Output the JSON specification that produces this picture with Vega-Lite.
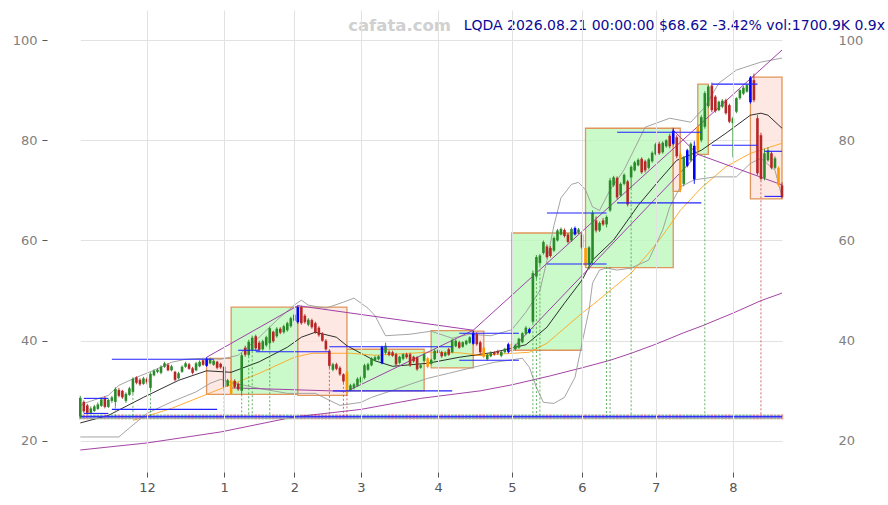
{
  "$schema": "https://vega.github.io/schema/vega-lite/v6.json",
  "width": 780,
  "height": 462,
  "autosize": "none",
  "padding": {"left": 47, "top": 10, "right": 61, "bottom": 33},
  "background": "white",
  "config": {
    "view": {"stroke": null},
    "axis": {"labelFont": "DejaVu Sans", "labelFontSize": 13, "domain": false, "gridColor": "#e2e2e2", "gridWidth": 1, "title": null}
  },
  "datasets": {
    "cs": [
      {"d":"2025-11-03","o":24.9,"h":29.0,"l":24.5,"c":28.6},
      {"d":"2025-11-04","o":27.8,"h":28.1,"l":25.6,"c":25.9},
      {"d":"2025-11-05","o":27.1,"h":27.4,"l":25.3,"c":25.6},
      {"d":"2025-11-06","o":25.6,"h":26.9,"l":25.4,"c":26.5},
      {"d":"2025-11-07","o":26.0,"h":27.2,"l":25.8,"c":26.9},
      {"d":"2025-11-10","o":26.4,"h":27.7,"l":26.2,"c":27.3},
      {"d":"2025-11-11","o":27.0,"h":28.6,"l":26.8,"c":28.3},
      {"d":"2025-11-12","o":28.6,"h":28.9,"l":26.5,"c":26.8},
      {"d":"2025-11-13","o":26.8,"h":28.4,"l":26.6,"c":28.2},
      {"d":"2025-11-14","o":28.0,"h":29.0,"l":27.6,"c":28.7},
      {"d":"2025-11-17","o":27.8,"h":30.7,"l":26.9,"c":30.4},
      {"d":"2025-11-18","o":30.2,"h":30.6,"l":28.7,"c":29.0},
      {"d":"2025-11-19","o":30.0,"h":30.2,"l":28.4,"c":28.7},
      {"d":"2025-11-20","o":28.0,"h":29.7,"l":27.6,"c":29.4},
      {"d":"2025-11-21","o":29.2,"h":30.8,"l":29.0,"c":30.5},
      {"d":"2025-11-24","o":29.8,"h":32.7,"l":29.4,"c":32.4},
      {"d":"2025-11-25","o":32.7,"h":32.9,"l":31.3,"c":31.6},
      {"d":"2025-11-26","o":32.2,"h":32.5,"l":31.0,"c":31.3},
      {"d":"2025-11-28","o":31.4,"h":32.8,"l":31.2,"c":32.5},
      {"d":"2025-12-01","o":32.4,"h":32.7,"l":31.3,"c":31.7},
      {"d":"2025-12-02","o":30.6,"h":33.7,"l":30.1,"c":33.4},
      {"d":"2025-12-03","o":33.1,"h":34.3,"l":32.9,"c":34.0},
      {"d":"2025-12-04","o":33.8,"h":34.5,"l":33.5,"c":34.2},
      {"d":"2025-12-05","o":33.6,"h":35.1,"l":33.3,"c":34.8},
      {"d":"2025-12-08","o":34.8,"h":35.8,"l":34.6,"c":35.5},
      {"d":"2025-12-09","o":35.2,"h":35.5,"l":33.9,"c":34.1},
      {"d":"2025-12-10","o":34.1,"h":35.2,"l":33.9,"c":34.9},
      {"d":"2025-12-11","o":33.8,"h":34.0,"l":31.9,"c":32.2},
      {"d":"2025-12-12","o":32.5,"h":33.8,"l":32.3,"c":33.5},
      {"d":"2025-12-15","o":33.8,"h":35.1,"l":33.6,"c":34.8},
      {"d":"2025-12-16","o":34.8,"h":35.8,"l":34.6,"c":35.5},
      {"d":"2025-12-17","o":35.3,"h":35.6,"l":34.2,"c":34.4},
      {"d":"2025-12-18","o":34.5,"h":34.8,"l":33.3,"c":33.6},
      {"d":"2025-12-19","o":34.1,"h":35.8,"l":33.9,"c":35.5},
      {"d":"2025-12-22","o":34.9,"h":36.1,"l":34.7,"c":35.8},
      {"d":"2025-12-23","o":36.1,"h":36.4,"l":35.0,"c":35.2},
      {"d":"2025-12-24","o":35.0,"h":36.7,"l":34.8,"c":36.4,"sig":"A"},
      {"d":"2025-12-26","o":35.5,"h":36.6,"l":35.3,"c":36.3},
      {"d":"2025-12-29","o":35.2,"h":36.3,"l":35.0,"c":36.0},
      {"d":"2025-12-30","o":35.8,"h":36.0,"l":34.3,"c":34.6},
      {"d":"2025-12-31","o":35.4,"h":35.6,"l":34.4,"c":34.7},
      {"d":"2026-01-02","o":34.8,"h":35.0,"l":30.3,"c":30.8},
      {"d":"2026-01-05","o":31.0,"h":32.4,"l":30.8,"c":32.1},
      {"d":"2026-01-06","o":32.1,"h":32.4,"l":29.2,"c":29.5,"sig":"B"},
      {"d":"2026-01-07","o":32.0,"h":32.3,"l":30.5,"c":30.8},
      {"d":"2026-01-08","o":31.4,"h":31.7,"l":30.0,"c":30.3},
      {"d":"2026-01-09","o":30.0,"h":37.6,"l":29.3,"c":37.1},
      {"d":"2026-01-12","o":38.6,"h":39.0,"l":36.8,"c":37.2},
      {"d":"2026-01-13","o":37.2,"h":40.2,"l":36.9,"c":39.8},
      {"d":"2026-01-14","o":38.2,"h":41.0,"l":37.9,"c":40.6},
      {"d":"2026-01-15","o":40.9,"h":41.2,"l":38.1,"c":38.5},
      {"d":"2026-01-16","o":39.6,"h":40.0,"l":37.8,"c":38.2},
      {"d":"2026-01-20","o":38.3,"h":40.2,"l":38.0,"c":39.9},
      {"d":"2026-01-21","o":39.1,"h":41.0,"l":38.8,"c":40.7},
      {"d":"2026-01-22","o":39.5,"h":42.8,"l":38.5,"c":42.5},
      {"d":"2026-01-23","o":41.8,"h":42.0,"l":39.6,"c":39.9},
      {"d":"2026-01-26","o":40.9,"h":42.7,"l":40.6,"c":42.4},
      {"d":"2026-01-27","o":42.4,"h":42.7,"l":41.3,"c":41.6},
      {"d":"2026-01-28","o":41.7,"h":43.2,"l":41.4,"c":42.9},
      {"d":"2026-01-29","o":42.1,"h":43.8,"l":41.8,"c":43.5},
      {"d":"2026-01-30","o":42.9,"h":44.8,"l":42.6,"c":44.5},
      {"d":"2026-02-02","o":44.0,"h":45.5,"l":43.7,"c":45.2},
      {"d":"2026-02-03","o":43.7,"h":47.0,"l":43.4,"c":46.7,"sig":"A"},
      {"d":"2026-02-04","o":46.7,"h":47.0,"l":43.2,"c":43.5},
      {"d":"2026-02-05","o":45.0,"h":45.3,"l":43.4,"c":43.7},
      {"d":"2026-02-06","o":43.2,"h":44.5,"l":42.9,"c":44.2},
      {"d":"2026-02-09","o":44.1,"h":44.4,"l":42.4,"c":42.7},
      {"d":"2026-02-10","o":43.5,"h":43.8,"l":41.4,"c":41.7},
      {"d":"2026-02-11","o":42.6,"h":42.9,"l":40.8,"c":41.1},
      {"d":"2026-02-12","o":41.4,"h":41.7,"l":39.8,"c":40.0},
      {"d":"2026-02-13","o":40.0,"h":40.3,"l":38.0,"c":38.3},
      {"d":"2026-02-17","o":38.0,"h":38.3,"l":34.6,"c":35.0},
      {"d":"2026-02-18","o":34.2,"h":35.6,"l":33.9,"c":35.3},
      {"d":"2026-02-19","o":35.3,"h":35.6,"l":34.1,"c":34.4},
      {"d":"2026-02-20","o":34.6,"h":34.9,"l":33.0,"c":33.3},
      {"d":"2026-02-23","o":33.3,"h":33.5,"l":31.6,"c":31.9},
      {"d":"2026-02-24","o":33.7,"h":34.0,"l":29.3,"c":29.7,"sig":"B"},
      {"d":"2026-02-25","o":30.1,"h":31.4,"l":29.9,"c":31.1},
      {"d":"2026-02-26","o":30.6,"h":31.6,"l":30.3,"c":31.3},
      {"d":"2026-02-27","o":31.0,"h":32.7,"l":30.8,"c":32.4},
      {"d":"2026-03-02","o":31.7,"h":33.0,"l":31.4,"c":32.7},
      {"d":"2026-03-03","o":32.6,"h":35.4,"l":32.3,"c":35.1},
      {"d":"2026-03-04","o":34.2,"h":35.6,"l":34.0,"c":35.3},
      {"d":"2026-03-05","o":35.1,"h":36.7,"l":34.9,"c":36.5},
      {"d":"2026-03-06","o":36.1,"h":37.0,"l":35.9,"c":36.7},
      {"d":"2026-03-09","o":36.3,"h":37.1,"l":36.1,"c":36.9},
      {"d":"2026-03-10","o":35.5,"h":39.0,"l":35.3,"c":38.8,"sig":"A"},
      {"d":"2026-03-11","o":37.6,"h":39.6,"l":37.3,"c":39.0},
      {"d":"2026-03-12","o":37.8,"h":38.1,"l":36.9,"c":37.2},
      {"d":"2026-03-13","o":37.7,"h":38.0,"l":36.8,"c":37.0},
      {"d":"2026-03-16","o":37.3,"h":37.6,"l":35.0,"c":35.3},
      {"d":"2026-03-17","o":35.6,"h":37.0,"l":35.3,"c":36.8},
      {"d":"2026-03-18","o":36.4,"h":37.5,"l":36.1,"c":37.3},
      {"d":"2026-03-19","o":37.3,"h":37.6,"l":36.4,"c":36.7},
      {"d":"2026-03-20","o":37.3,"h":37.6,"l":34.8,"c":35.1},
      {"d":"2026-03-23","o":36.8,"h":37.0,"l":35.6,"c":35.9},
      {"d":"2026-03-24","o":36.7,"h":36.9,"l":34.0,"c":34.3},
      {"d":"2026-03-25","o":34.6,"h":35.4,"l":34.4,"c":35.1},
      {"d":"2026-03-26","o":36.0,"h":37.5,"l":35.8,"c":37.3},
      {"d":"2026-03-27","o":36.5,"h":36.8,"l":34.5,"c":34.8,"sig":"B"},
      {"d":"2026-03-30","o":35.4,"h":36.4,"l":35.2,"c":36.2},
      {"d":"2026-03-31","o":36.3,"h":38.3,"l":36.1,"c":38.0},
      {"d":"2026-04-01","o":38.1,"h":38.4,"l":37.4,"c":37.6},
      {"d":"2026-04-02","o":37.7,"h":38.0,"l":36.6,"c":36.9},
      {"d":"2026-04-06","o":37.0,"h":37.9,"l":36.8,"c":37.6},
      {"d":"2026-04-07","o":38.3,"h":38.6,"l":37.0,"c":37.2},
      {"d":"2026-04-08","o":37.7,"h":40.4,"l":37.5,"c":40.1},
      {"d":"2026-04-09","o":38.9,"h":40.3,"l":38.7,"c":40.0},
      {"d":"2026-04-10","o":39.7,"h":40.0,"l":38.4,"c":38.6},
      {"d":"2026-04-13","o":38.8,"h":39.9,"l":38.6,"c":39.7},
      {"d":"2026-04-14","o":39.3,"h":40.2,"l":39.1,"c":40.0},
      {"d":"2026-04-15","o":39.6,"h":40.9,"l":39.4,"c":40.7},
      {"d":"2026-04-16","o":39.4,"h":42.0,"l":39.2,"c":41.6,"sig":"A"},
      {"d":"2026-04-17","o":41.3,"h":41.7,"l":39.0,"c":39.3},
      {"d":"2026-04-20","o":39.7,"h":40.0,"l":37.4,"c":37.7},
      {"d":"2026-04-21","o":38.6,"h":38.9,"l":36.5,"c":36.8,"sig":"B"},
      {"d":"2026-04-22","o":36.3,"h":37.5,"l":36.0,"c":37.2},
      {"d":"2026-04-23","o":36.9,"h":37.9,"l":36.7,"c":37.6},
      {"d":"2026-04-24","o":37.7,"h":37.9,"l":37.0,"c":37.3},
      {"d":"2026-04-27","o":37.9,"h":38.2,"l":37.2,"c":37.5},
      {"d":"2026-04-28","o":37.0,"h":38.0,"l":36.7,"c":37.8},
      {"d":"2026-04-29","o":37.7,"h":38.6,"l":37.5,"c":38.4},
      {"d":"2026-04-30","o":37.8,"h":39.6,"l":37.5,"c":39.3,"sig":"A"},
      {"d":"2026-05-01","o":39.4,"h":39.7,"l":37.6,"c":37.9,"sig":"B"},
      {"d":"2026-05-04","o":38.3,"h":39.4,"l":38.1,"c":39.1},
      {"d":"2026-05-05","o":38.6,"h":40.6,"l":38.4,"c":40.4},
      {"d":"2026-05-06","o":39.7,"h":41.7,"l":39.5,"c":41.5},
      {"d":"2026-05-07","o":41.4,"h":42.9,"l":41.2,"c":42.6},
      {"d":"2026-05-08","o":41.6,"h":42.6,"l":41.4,"c":42.3,"sig":"A"},
      {"d":"2026-05-11","o":43.8,"h":54.0,"l":43.5,"c":53.5},
      {"d":"2026-05-12","o":52.8,"h":57.1,"l":52.3,"c":56.7},
      {"d":"2026-05-13","o":55.5,"h":57.3,"l":55.0,"c":57.0},
      {"d":"2026-05-14","o":57.5,"h":60.0,"l":57.2,"c":59.7},
      {"d":"2026-05-15","o":58.8,"h":59.2,"l":56.4,"c":56.7},
      {"d":"2026-05-18","o":58.5,"h":58.9,"l":56.6,"c":56.9},
      {"d":"2026-05-19","o":58.0,"h":60.8,"l":57.7,"c":60.5},
      {"d":"2026-05-20","o":60.0,"h":62.3,"l":59.8,"c":62.0},
      {"d":"2026-05-21","o":61.2,"h":62.6,"l":61.0,"c":62.3},
      {"d":"2026-05-22","o":62.1,"h":62.4,"l":60.6,"c":60.9},
      {"d":"2026-05-26","o":61.2,"h":61.5,"l":59.4,"c":59.7},
      {"d":"2026-05-27","o":60.0,"h":62.6,"l":59.7,"c":62.3},
      {"d":"2026-05-28","o":61.2,"h":62.8,"l":61.0,"c":62.5,"sig":"A"},
      {"d":"2026-05-29","o":61.6,"h":62.5,"l":61.3,"c":62.2},
      {"d":"2026-06-01","o":61.2,"h":61.5,"l":58.3,"c":58.6},
      {"d":"2026-06-02","o":58.5,"h":58.8,"l":54.6,"c":55.0,"sig":"B"},
      {"d":"2026-06-03","o":55.2,"h":58.9,"l":54.2,"c":58.6},
      {"d":"2026-06-04","o":56.0,"h":66.0,"l":55.3,"c":65.5},
      {"d":"2026-06-05","o":64.0,"h":64.8,"l":61.6,"c":62.0},
      {"d":"2026-06-08","o":62.0,"h":63.8,"l":61.7,"c":63.5},
      {"d":"2026-06-09","o":64.0,"h":64.5,"l":62.9,"c":63.2},
      {"d":"2026-06-10","o":63.2,"h":65.0,"l":62.6,"c":64.7},
      {"d":"2026-06-11","o":66.0,"h":72.5,"l":65.7,"c":72.0},
      {"d":"2026-06-12","o":71.0,"h":72.9,"l":70.7,"c":72.6},
      {"d":"2026-06-15","o":72.5,"h":72.8,"l":68.2,"c":68.6},
      {"d":"2026-06-16","o":69.0,"h":71.6,"l":68.7,"c":71.3},
      {"d":"2026-06-17","o":71.3,"h":73.4,"l":71.0,"c":73.1},
      {"d":"2026-06-18","o":71.8,"h":72.1,"l":66.8,"c":67.2},
      {"d":"2026-06-22","o":72.6,"h":75.0,"l":70.4,"c":74.7},
      {"d":"2026-06-23","o":74.0,"h":75.9,"l":73.8,"c":75.6},
      {"d":"2026-06-24","o":75.0,"h":76.4,"l":74.8,"c":76.1},
      {"d":"2026-06-25","o":76.3,"h":76.6,"l":73.3,"c":73.6},
      {"d":"2026-06-26","o":75.8,"h":76.1,"l":73.6,"c":74.0},
      {"d":"2026-06-29","o":74.5,"h":76.5,"l":74.2,"c":76.2},
      {"d":"2026-06-30","o":75.8,"h":77.8,"l":75.5,"c":77.5},
      {"d":"2026-07-01","o":77.2,"h":79.5,"l":77.0,"c":79.2},
      {"d":"2026-07-02","o":79.3,"h":79.7,"l":77.1,"c":77.4},
      {"d":"2026-07-06","o":77.6,"h":79.8,"l":77.3,"c":79.5},
      {"d":"2026-07-07","o":78.8,"h":80.2,"l":78.5,"c":80.0},
      {"d":"2026-07-08","o":80.9,"h":81.3,"l":78.4,"c":78.8},
      {"d":"2026-07-09","o":79.3,"h":82.4,"l":79.0,"c":81.9,"sig":"A"},
      {"d":"2026-07-10","o":80.6,"h":81.0,"l":76.4,"c":76.8},
      {"d":"2026-07-13","o":77.2,"h":77.7,"l":69.6,"c":70.1,"sig":"B"},
      {"d":"2026-07-14","o":71.3,"h":76.9,"l":70.8,"c":76.6},
      {"d":"2026-07-15","o":74.9,"h":78.3,"l":74.6,"c":78.0,"sig":"A"},
      {"d":"2026-07-16","o":76.0,"h":79.6,"l":75.7,"c":79.3},
      {"d":"2026-07-17","o":72.2,"h":79.8,"l":71.3,"c":78.9,"sig":"A"},
      {"d":"2026-07-20","o":78.0,"h":83.2,"l":77.4,"c":82.7,"sig":"B"},
      {"d":"2026-07-21","o":80.0,"h":85.0,"l":79.6,"c":84.6},
      {"d":"2026-07-22","o":82.7,"h":89.8,"l":82.3,"c":89.4},
      {"d":"2026-07-23","o":86.8,"h":91.0,"l":86.4,"c":90.7},
      {"d":"2026-07-24","o":90.9,"h":91.5,"l":85.6,"c":86.0},
      {"d":"2026-07-27","o":88.7,"h":89.0,"l":85.5,"c":85.8},
      {"d":"2026-07-28","o":86.0,"h":87.9,"l":85.8,"c":87.7},
      {"d":"2026-07-29","o":86.7,"h":88.2,"l":86.4,"c":87.9},
      {"d":"2026-07-30","o":88.0,"h":88.3,"l":85.1,"c":85.4},
      {"d":"2026-07-31","o":87.0,"h":87.3,"l":83.4,"c":83.7},
      {"d":"2026-08-03","o":83.4,"h":84.7,"l":76.6,"c":84.4},
      {"d":"2026-08-04","o":85.7,"h":88.6,"l":85.4,"c":88.4},
      {"d":"2026-08-05","o":88.4,"h":90.2,"l":88.1,"c":90.0},
      {"d":"2026-08-06","o":89.3,"h":90.8,"l":89.0,"c":90.5},
      {"d":"2026-08-07","o":89.7,"h":91.2,"l":89.5,"c":91.0},
      {"d":"2026-08-10","o":87.6,"h":92.8,"l":87.3,"c":92.5,"sig":"A"},
      {"d":"2026-08-11","o":92.0,"h":93.3,"l":87.6,"c":88.0},
      {"d":"2026-08-12","o":84.4,"h":85.0,"l":73.0,"c":73.4},
      {"d":"2026-08-13","o":81.0,"h":81.5,"l":72.0,"c":72.3},
      {"d":"2026-08-14","o":72.5,"h":78.3,"l":72.0,"c":77.4},
      {"d":"2026-08-17","o":76.0,"h":78.6,"l":75.7,"c":78.0},
      {"d":"2026-08-18","o":77.4,"h":77.8,"l":74.2,"c":74.5},
      {"d":"2026-08-19","o":74.5,"h":76.8,"l":74.2,"c":76.4},
      {"d":"2026-08-20","o":74.5,"h":74.8,"l":70.8,"c":71.05,"sig":"B"},
      {"d":"2026-08-21","o":71.0,"h":71.6,"l":68.4,"c":68.62}
    ],
    "bx": [
      {"d1":"2025-12-24","d2":"2026-01-06","lo":29.3,"hi":36.5,"s":"dn"},
      {"d1":"2026-01-06","d2":"2026-02-03","lo":29.3,"hi":46.7,"s":"up"},
      {"d1":"2026-02-03","d2":"2026-02-24","lo":29.1,"hi":46.7,"s":"dn"},
      {"d1":"2026-02-24","d2":"2026-03-26","lo":30.0,"hi":38.3,"s":"up"},
      {"d1":"2026-03-30","d2":"2026-04-16","lo":34.6,"hi":42.0,"s":"up"},
      {"d1":"2026-04-16","d2":"2026-04-21","lo":37.1,"hi":41.9,"s":"dn"},
      {"d1":"2026-05-01","d2":"2026-06-01","lo":38.1,"hi":61.5,"s":"up"},
      {"d1":"2026-06-02","d2":"2026-07-09","lo":54.6,"hi":82.4,"s":"up"},
      {"d1":"2026-07-09","d2":"2026-07-13","lo":69.8,"hi":82.4,"s":"dn"},
      {"d1":"2026-07-20","d2":"2026-07-23","lo":77.2,"hi":91.2,"s":"up"},
      {"d1":"2026-08-10","d2":"2026-08-21","lo":68.3,"hi":92.6,"s":"dn"}
    ],
    "hl": [
      {"d1":"2025-11-14","d2":"2025-12-29","v":36.3},
      {"d1":"2025-11-14","d2":"2025-12-30","v":26.3},
      {"d1":"2025-11-04","d2":"2025-11-13","v":28.5},
      {"d1":"2025-11-04","d2":"2025-11-13","v":25.5},
      {"d1":"2026-01-08","d2":"2026-01-16","v":38.1},
      {"d1":"2026-01-15","d2":"2026-02-17","v":37.8},
      {"d1":"2026-02-17","d2":"2026-04-08","v":38.8},
      {"d1":"2026-02-18","d2":"2026-04-08","v":30.0},
      {"d1":"2026-04-10","d2":"2026-05-05","v":41.5},
      {"d1":"2026-04-10","d2":"2026-05-05","v":36.1},
      {"d1":"2026-05-15","d2":"2026-06-10","v":65.5},
      {"d1":"2026-05-15","d2":"2026-06-10","v":55.3},
      {"d1":"2026-06-15","d2":"2026-07-21","v":81.6},
      {"d1":"2026-06-15","d2":"2026-07-21","v":67.5},
      {"d1":"2026-07-24","d2":"2026-08-12","v":91.2},
      {"d1":"2026-07-24","d2":"2026-08-12","v":79.0},
      {"d1":"2026-08-14","d2":"2026-08-21","v":77.8},
      {"d1":"2026-08-14","d2":"2026-08-21","v":68.8}
    ],
    "dv": [
      {"d":"2025-11-17","v":26.9,"s":"up"},
      {"d":"2025-11-24","v":29.4,"s":"up"},
      {"d":"2025-12-02","v":30.1,"s":"up"},
      {"d":"2026-01-02","v":30.3,"s":"dn"},
      {"d":"2026-01-09","v":29.3,"s":"up"},
      {"d":"2026-01-13","v":36.9,"s":"up"},
      {"d":"2026-01-14","v":37.9,"s":"up"},
      {"d":"2026-01-22","v":38.5,"s":"up"},
      {"d":"2026-02-17","v":34.6,"s":"dn"},
      {"d":"2026-02-23","v":31.6,"s":"dn"},
      {"d":"2026-02-24","v":29.3,"s":"dn"},
      {"d":"2026-05-11","v":43.5,"s":"up"},
      {"d":"2026-05-12","v":52.3,"s":"up"},
      {"d":"2026-05-13","v":55.0,"s":"up"},
      {"d":"2026-06-10","v":54.7,"s":"up"},
      {"d":"2026-06-11","v":54.7,"s":"up"},
      {"d":"2026-06-22","v":70.4,"s":"up"},
      {"d":"2026-07-22","v":77.0,"s":"up"},
      {"d":"2026-08-13","v":72.0,"s":"dn"}
    ],
    "tr": [
      {"d":"2025-12-24","v":36.7,"g":"a"},{"d":"2026-02-03","v":47.0,"g":"a"},
      {"d":"2026-02-03","v":47.0,"g":"b"},{"d":"2026-04-16","v":42.1,"g":"b"},
      {"d":"2026-01-06","v":30.6,"g":"c"},{"d":"2026-02-24","v":29.9,"g":"c"},
      {"d":"2026-02-24","v":29.9,"g":"d"},{"d":"2026-04-16","v":42.1,"g":"d"},
      {"d":"2026-04-16","v":42.1,"g":"e"},{"d":"2026-08-21","v":98.0,"g":"e"},
      {"d":"2026-04-30","v":37.6,"g":"f"},{"d":"2026-07-20","v":77.2,"g":"f"},
      {"d":"2026-07-09","v":82.0,"g":"g"},{"d":"2026-07-20","v":77.2,"g":"g"},
      {"d":"2026-07-20","v":77.2,"g":"h"},{"d":"2026-08-21","v":71.1,"g":"h"}
    ],
    "ln": [
      {"d":"2025-11-03","s":"m20","v":23.6},{"d":"2025-11-13","s":"m20","v":25.1},{"d":"2025-11-28","s":"m20","v":28.7},
      {"d":"2025-12-12","s":"m20","v":32.1},{"d":"2025-12-24","s":"m20","v":34.0},{"d":"2026-01-06","s":"m20","v":33.7},
      {"d":"2026-01-16","s":"m20","v":35.8},{"d":"2026-01-29","s":"m20","v":38.7},{"d":"2026-02-04","s":"m20","v":40.7},
      {"d":"2026-02-10","s":"m20","v":41.7},{"d":"2026-02-19","s":"m20","v":40.7},{"d":"2026-02-24","s":"m20","v":39.0},
      {"d":"2026-03-02","s":"m20","v":37.5},{"d":"2026-03-06","s":"m20","v":36.0},{"d":"2026-03-13","s":"m20","v":34.9},
      {"d":"2026-03-27","s":"m20","v":35.5},{"d":"2026-04-10","s":"m20","v":36.7},{"d":"2026-04-24","s":"m20","v":37.7},
      {"d":"2026-05-07","s":"m20","v":39.2},{"d":"2026-05-15","s":"m20","v":42.7},{"d":"2026-05-22","s":"m20","v":47.5},
      {"d":"2026-06-01","s":"m20","v":52.1},{"d":"2026-06-04","s":"m20","v":56.1},{"d":"2026-06-12","s":"m20","v":60.1},
      {"d":"2026-06-22","s":"m20","v":65.0},{"d":"2026-06-24","s":"m20","v":67.0},{"d":"2026-07-02","s":"m20","v":72.0},
      {"d":"2026-07-10","s":"m20","v":76.0},{"d":"2026-07-21","s":"m20","v":78.0},{"d":"2026-07-30","s":"m20","v":81.4},
      {"d":"2026-08-10","s":"m20","v":85.0},{"d":"2026-08-13","s":"m20","v":85.4},{"d":"2026-08-17","s":"m20","v":85.0},
      {"d":"2026-08-21","s":"m20","v":82.4},

      {"d":"2025-11-24","s":"m50","v":24.1},{"d":"2025-12-10","s":"m50","v":26.5},{"d":"2025-12-24","s":"m50","v":29.3},
      {"d":"2026-01-16","s":"m50","v":33.5},{"d":"2026-02-02","s":"m50","v":36.7},{"d":"2026-02-09","s":"m50","v":37.5},
      {"d":"2026-02-25","s":"m50","v":37.5},{"d":"2026-03-06","s":"m50","v":37.1},{"d":"2026-03-27","s":"m50","v":37.7},
      {"d":"2026-04-10","s":"m50","v":37.6},{"d":"2026-04-20","s":"m50","v":37.1},{"d":"2026-05-08","s":"m50","v":37.7},
      {"d":"2026-05-15","s":"m50","v":39.5},{"d":"2026-06-01","s":"m50","v":45.5},{"d":"2026-06-05","s":"m50","v":47.7},
      {"d":"2026-06-22","s":"m50","v":53.5},{"d":"2026-06-29","s":"m50","v":57.5},{"d":"2026-07-06","s":"m50","v":61.0},
      {"d":"2026-07-13","s":"m50","v":66.0},{"d":"2026-07-21","s":"m50","v":70.5},{"d":"2026-07-30","s":"m50","v":74.7},
      {"d":"2026-08-10","s":"m50","v":77.4},{"d":"2026-08-21","s":"m50","v":79.4},

      {"d":"2025-11-03","s":"m200","v":18.2},{"d":"2025-12-01","s":"m200","v":19.6},{"d":"2025-12-31","s":"m200","v":21.8},
      {"d":"2026-02-02","s":"m200","v":24.8},{"d":"2026-03-02","s":"m200","v":26.3},{"d":"2026-03-25","s":"m200","v":28.5},
      {"d":"2026-04-20","s":"m200","v":30.0},{"d":"2026-05-01","s":"m200","v":31.2},{"d":"2026-05-18","s":"m200","v":33.0},
      {"d":"2026-06-01","s":"m200","v":34.6},{"d":"2026-06-11","s":"m200","v":36.1},{"d":"2026-06-22","s":"m200","v":37.5},
      {"d":"2026-07-01","s":"m200","v":39.3},{"d":"2026-07-14","s":"m200","v":41.6},{"d":"2026-07-21","s":"m200","v":42.9},
      {"d":"2026-08-03","s":"m200","v":45.5},{"d":"2026-08-13","s":"m200","v":48.0},{"d":"2026-08-21","s":"m200","v":49.5},

      {"d":"2025-11-03","s":"bu","v":27.0},{"d":"2025-11-04","s":"bu","v":27.5},{"d":"2025-11-13","s":"bu","v":29.1},
      {"d":"2025-11-18","s":"bu","v":31.1},{"d":"2025-11-25","s":"bu","v":32.7},{"d":"2025-12-03","s":"bu","v":34.1},
      {"d":"2025-12-10","s":"bu","v":35.7},{"d":"2025-12-16","s":"bu","v":36.3},{"d":"2025-12-23","s":"bu","v":36.5},
      {"d":"2025-12-31","s":"bu","v":36.3},{"d":"2026-01-08","s":"bu","v":37.1},{"d":"2026-01-16","s":"bu","v":40.7},
      {"d":"2026-01-26","s":"bu","v":44.1},{"d":"2026-02-02","s":"bu","v":47.1},{"d":"2026-02-04","s":"bu","v":48.1},
      {"d":"2026-02-06","s":"bu","v":47.1},{"d":"2026-02-13","s":"bu","v":46.5},{"d":"2026-02-23","s":"bu","v":47.7},
      {"d":"2026-02-26","s":"bu","v":48.5},{"d":"2026-03-04","s":"bu","v":46.5},{"d":"2026-03-06","s":"bu","v":45.0},
      {"d":"2026-03-11","s":"bu","v":41.0},{"d":"2026-03-20","s":"bu","v":41.3},{"d":"2026-03-30","s":"bu","v":41.9},
      {"d":"2026-04-08","s":"bu","v":40.5},{"d":"2026-04-15","s":"bu","v":41.3},{"d":"2026-04-23","s":"bu","v":41.0},
      {"d":"2026-05-01","s":"bu","v":42.2},{"d":"2026-05-07","s":"bu","v":45.7},{"d":"2026-05-13","s":"bu","v":50.0},
      {"d":"2026-05-15","s":"bu","v":56.0},{"d":"2026-05-19","s":"bu","v":63.0},{"d":"2026-05-21","s":"bu","v":68.5},
      {"d":"2026-05-27","s":"bu","v":71.2},{"d":"2026-05-29","s":"bu","v":71.6},{"d":"2026-06-02","s":"bu","v":70.1},
      {"d":"2026-06-04","s":"bu","v":66.7},{"d":"2026-06-08","s":"bu","v":66.0},{"d":"2026-06-11","s":"bu","v":70.1},
      {"d":"2026-06-17","s":"bu","v":74.1},{"d":"2026-06-26","s":"bu","v":82.6},{"d":"2026-07-08","s":"bu","v":84.4},
      {"d":"2026-07-16","s":"bu","v":83.6},{"d":"2026-07-22","s":"bu","v":86.6},{"d":"2026-07-28","s":"bu","v":91.4},
      {"d":"2026-08-04","s":"bu","v":94.0},{"d":"2026-08-13","s":"bu","v":95.6},{"d":"2026-08-21","s":"bu","v":96.4},

      {"d":"2025-11-03","s":"bl","v":20.8},{"d":"2025-11-18","s":"bl","v":20.8},{"d":"2025-11-21","s":"bl","v":22.6},
      {"d":"2025-12-01","s":"bl","v":25.5},{"d":"2025-12-10","s":"bl","v":27.8},{"d":"2025-12-19","s":"bl","v":29.8},
      {"d":"2025-12-26","s":"bl","v":31.5},{"d":"2025-12-31","s":"bl","v":32.3},{"d":"2026-01-07","s":"bl","v":31.5},
      {"d":"2026-01-16","s":"bl","v":30.5},{"d":"2026-01-29","s":"bl","v":29.5},{"d":"2026-02-10","s":"bl","v":29.5},
      {"d":"2026-02-20","s":"bl","v":27.1},{"d":"2026-03-02","s":"bl","v":27.7},{"d":"2026-03-05","s":"bl","v":28.7},
      {"d":"2026-03-13","s":"bl","v":30.1},{"d":"2026-03-27","s":"bl","v":32.5},{"d":"2026-04-07","s":"bl","v":33.5},
      {"d":"2026-04-16","s":"bl","v":34.7},{"d":"2026-04-24","s":"bl","v":35.7},{"d":"2026-05-06","s":"bl","v":36.5},
      {"d":"2026-05-08","s":"bl","v":34.7},{"d":"2026-05-12","s":"bl","v":30.7},{"d":"2026-05-14","s":"bl","v":27.7},
      {"d":"2026-05-19","s":"bl","v":27.5},{"d":"2026-05-22","s":"bl","v":28.7},{"d":"2026-05-28","s":"bl","v":32.7},
      {"d":"2026-06-01","s":"bl","v":39.5},{"d":"2026-06-03","s":"bl","v":46.1},{"d":"2026-06-04","s":"bl","v":51.5},
      {"d":"2026-06-08","s":"bl","v":54.1},{"d":"2026-06-10","s":"bl","v":54.5},{"d":"2026-06-15","s":"bl","v":54.1},
      {"d":"2026-06-22","s":"bl","v":54.5},{"d":"2026-06-29","s":"bl","v":56.1},{"d":"2026-07-06","s":"bl","v":62.1},
      {"d":"2026-07-08","s":"bl","v":66.7},{"d":"2026-07-13","s":"bl","v":70.7},{"d":"2026-07-17","s":"bl","v":72.1},
      {"d":"2026-07-27","s":"bl","v":72.7},{"d":"2026-08-04","s":"bl","v":72.7},{"d":"2026-08-10","s":"bl","v":75.4},
      {"d":"2026-08-13","s":"bl","v":76.4},{"d":"2026-08-19","s":"bl","v":74.0},{"d":"2026-08-21","s":"bl","v":68.7}
    ]
  },
  "layer": [
    {
      "data": {"name": "bx"},
      "mark": {"type": "rect", "stroke": "#e0955a", "strokeWidth": 1.3, "fillOpacity": 0.8},
      "encoding": {
        "x": {
          "field": "d1", "type": "ordinal", "title": null,
          "scale": {"type": "point", "range": [33.3, 735.0], "padding": 0, "round": false},
          "axis": {
            "values": ["2025-12-01","2026-01-02","2026-02-02","2026-03-02","2026-04-01","2026-05-01","2026-06-01","2026-07-01","2026-08-03"],
            "labelExpr": "'' + toNumber(slice(datum.value, 5, 7))",
            "grid": true, "ticks": true, "tickSize": 5, "tickColor": "#555555", "labelAngle": 0,
            "labelColor": "#555555", "labelPadding": 4, "title": null
          }
        },
        "x2": {"field": "d2"},
        "y": {
          "field": "lo", "type": "quantitative", "title": null,
          "scale": {"domain": [13.81, 105.99], "nice": false, "zero": false},
          "axis": {"orient": "left", "values": [20, 40, 60, 80, 100], "grid": true, "ticks": true, "tickSize": 5, "tickColor": "#555555", "labelColor": "#808080", "labelPadding": 5, "title": null}
        },
        "y2": {"field": "hi"},
        "fill": {"condition": {"test": "datum.s === 'up'", "value": "#bdf7bd"}, "value": "#fde2dc"}
      }
    },
    {
      "data": {"name": "ln"},
      "mark": {"type": "line", "strokeWidth": 0.9},
      "encoding": {
        "x": {"field": "d", "type": "ordinal", "title": null},
        "y": {"field": "v", "type": "quantitative", "axis": null},
        "color": {"field": "s", "type": "nominal", "legend": null,
          "scale": {"domain": ["bu", "bl", "m20", "m50", "m200"], "range": ["#9a9a9a", "#9a9a9a", "#1a1a1a", "#ffa520", "#9a2f9a"]}}
      }
    },
    {
      "data": {"name": "tr"},
      "mark": {"type": "line", "stroke": "#a040a8", "strokeWidth": 1},
      "encoding": {
        "x": {"field": "d", "type": "ordinal", "title": null},
        "y": {"field": "v", "type": "quantitative", "axis": null},
        "detail": {"field": "g", "type": "nominal"}
      }
    },
    {
      "data": {"name": "dv"},
      "mark": {"type": "rule", "strokeDash": [2, 2], "strokeWidth": 0.8},
      "encoding": {
        "x": {"field": "d", "type": "ordinal", "title": null},
        "y": {"field": "v", "type": "quantitative", "axis": null},
        "y2": {"datum": 24.85},
        "stroke": {"condition": {"test": "datum.s === 'up'", "value": "#3c9c3c"}, "value": "#cc4444"}
      }
    },
    {
      "data": {"name": "cs"},
      "mark": {"type": "bar", "size": 2.6, "opacity": 0.45},
      "encoding": {
        "x": {"field": "d", "type": "ordinal", "title": null},
        "y": {"datum": 24.3, "type": "quantitative", "axis": null},
        "y2": {"datum": 25.3},
        "color": {"condition": {"test": "datum.c >= datum.o", "value": "#2a8a2a"}, "value": "#b82525"}
      }
    },
    {
      "data": {"values": [{"v": 24.5}]},
      "mark": {"type": "rule", "stroke": "#aaaaaa", "strokeWidth": 1},
      "encoding": {
        "x": {"datum": "2025-11-03", "type": "ordinal"},
        "x2": {"datum": "2026-08-21"},
        "y": {"field": "v", "type": "quantitative", "axis": null}
      }
    },
    {
      "data": {"values": [{"v": 24.85}]},
      "mark": {"type": "rule", "stroke": "#3030ff", "strokeWidth": 1.8},
      "encoding": {
        "x": {"datum": "2025-11-03", "type": "ordinal"},
        "x2": {"datum": "2026-08-21"},
        "y": {"field": "v", "type": "quantitative", "axis": null}
      }
    },
    {
      "data": {"name": "cs"},
      "mark": {"type": "rule", "strokeWidth": 0.9},
      "encoding": {
        "x": {"field": "d", "type": "ordinal", "title": null},
        "y": {"field": "l", "type": "quantitative", "axis": null},
        "y2": {"field": "h"},
        "stroke": {"condition": [
          {"test": "datum.sig === 'A'", "value": "#0000ff"},
          {"test": "datum.sig === 'B'", "value": "#ff9900"},
          {"test": "datum.c >= datum.o", "value": "#2a8a2a"}
        ], "value": "#b82525"}
      }
    },
    {
      "data": {"name": "cs"},
      "mark": {"type": "bar", "size": 2.6},
      "encoding": {
        "x": {"field": "d", "type": "ordinal", "title": null},
        "y": {"field": "o", "type": "quantitative", "axis": null},
        "y2": {"field": "c"},
        "fill": {"condition": [
          {"test": "datum.sig === 'A'", "value": "#0000ff"},
          {"test": "datum.sig === 'B'", "value": "#ff9900"},
          {"test": "datum.c >= datum.o", "value": "#2a8a2a"}
        ], "value": "#b82525"}
      }
    },
    {
      "data": {"name": "hl"},
      "mark": {"type": "rule", "stroke": "#2222ff", "strokeWidth": 1.1},
      "encoding": {
        "x": {"field": "d1", "type": "ordinal", "title": null},
        "x2": {"field": "d2"},
        "y": {
          "field": "v", "type": "quantitative", "title": null,
          "axis": {"orient": "right", "values": [20, 40, 60, 80, 100], "grid": false, "ticks": false, "tickSize": 0, "labelColor": "#808080", "labelPadding": 11, "title": null}
        }
      }
    },
    {
      "data": {"values": [{"t": "cafata.com"}]},
      "mark": {"type": "text", "align": "center", "baseline": "middle", "font": "DejaVu Sans", "fontSize": 16.5, "fontWeight": "bold", "fill": "#d0d0d0"},
      "encoding": {
        "x": {"datum": "2026-03-17", "type": "ordinal"},
        "y": {"datum": 102.8, "type": "quantitative", "axis": null},
        "text": {"field": "t"}
      }
    },
    {
      "data": {"values": [{"t": "LQDA 2026.08.21 00:00:00 $68.62 -3.42% vol:1700.9K 0.9x"}]},
      "mark": {"type": "text", "align": "right", "baseline": "middle", "dx": 103, "font": "DejaVu Sans", "fontSize": 14, "fill": "#0a0a96"},
      "encoding": {
        "x": {"datum": "2026-08-21", "type": "ordinal"},
        "y": {"datum": 102.8, "type": "quantitative", "axis": null},
        "text": {"field": "t"}
      }
    }
  ],
  "resolve": {"axis": {"y": "independent"}}
}
